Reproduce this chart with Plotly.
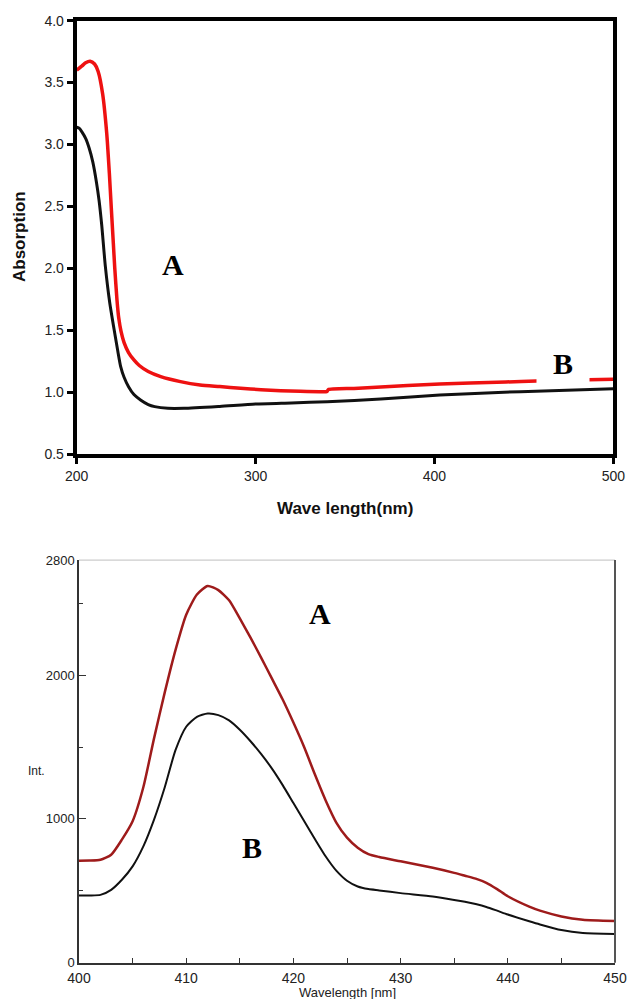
import plotly.graph_objects as go

# ---- UV-Vis absorption (top panel) ----
uv_wl_A = [200, 203, 205, 207.5, 210, 212, 214.5, 216.8, 218.3, 219.3, 220.5, 221.3, 222.5, 223.5, 224.8,
           226.5, 229, 232, 235, 240, 247, 258, 269, 280, 291.6, 303, 314, 325, 336, 340, 340.6, 355, 370,
           385, 403, 420, 440, 457, 475, 486, 500]
uv_abs_A = [3.60, 3.635, 3.66, 3.673, 3.65, 3.59, 3.41, 3.09, 2.76, 2.50, 2.20, 2.00, 1.75, 1.60, 1.49,
            1.40, 1.32, 1.26, 1.215, 1.166, 1.125, 1.085, 1.058, 1.045, 1.031, 1.02, 1.012, 1.007, 1.004, 1.006,
            1.02, 1.03, 1.042, 1.053, 1.066, 1.074, 1.082, 1.09, 1.097, 1.10, 1.105]

uv_wl_B = [200, 201.5, 203, 205, 207, 209, 211, 212.5, 214, 216, 218.5, 221, 223, 224.6, 226.5, 229,
           232, 235.7, 240, 243.6, 251, 260, 280, 300, 320, 340, 370, 403, 448, 500]
uv_abs_B = [3.14, 3.13, 3.10, 3.05, 2.97, 2.86, 2.70, 2.55, 2.35, 2.02, 1.72, 1.50, 1.33, 1.206, 1.12, 1.044,
            0.98, 0.937, 0.90, 0.883, 0.869, 0.869, 0.885, 0.904, 0.913, 0.923, 0.944, 0.977, 1.004, 1.027]

uv_xticks = [200, 300, 400, 500]

# ---- Fluorescence emission (bottom panel) ----
fl_wl = [400, 401, 402, 403, 404, 405, 406, 407, 408, 409, 410, 411, 412, 413, 414, 415, 416, 417, 418,
         419, 420, 421, 422, 423, 424, 425, 426, 427, 428, 430, 433, 435, 436, 437, 438, 439, 440, 442, 443,
         445, 447, 450]
fl_int_A = [709, 710, 716, 751, 856, 984, 1220, 1560, 1880, 2174, 2420, 2560, 2620, 2591, 2520, 2394, 2260,
            2120, 1975, 1830, 1670, 1500, 1310, 1130, 975, 870, 800, 755, 735, 705, 660, 625, 605, 585, 556,
            512, 462, 390, 362, 322, 299, 290]
fl_int_B = [467, 468, 472, 507, 577, 670, 809, 995, 1220, 1478, 1641, 1710, 1733, 1722, 1685, 1620, 1540,
            1450, 1350, 1235, 1110, 985, 860, 740, 640, 570, 530, 512, 503, 484, 460, 437, 424, 408, 388,
            362, 335, 288, 266, 227, 206, 200]

fl_yticks = [0, 1000, 2000, 2800]

SANS = "Liberation Sans, Arial, sans-serif"
NARROW = "Liberation Sans Narrow, Arial Narrow, Liberation Sans, sans-serif"
SERIF = "Liberation Serif, Times New Roman, serif"

fig = go.Figure()
fig.add_trace(go.Scatter(x=uv_wl_B, y=uv_abs_B, xaxis="x", yaxis="y", mode="lines",
                         line=dict(color="#111111", width=3, shape="spline", smoothing=0.6)))
fig.add_trace(go.Scatter(x=uv_wl_A, y=uv_abs_A, xaxis="x", yaxis="y", mode="lines",
                         line=dict(color="#ee1111", width=3.5, shape="spline", smoothing=0.6)))
fig.add_trace(go.Scatter(x=fl_wl, y=fl_int_A, xaxis="x2", yaxis="y2", mode="lines",
                         line=dict(color="#9e1b1b", width=2.5, shape="spline", smoothing=0.6)))
fig.add_trace(go.Scatter(x=fl_wl, y=fl_int_B, xaxis="x2", yaxis="y2", mode="lines",
                         line=dict(color="#111111", width=2, shape="spline", smoothing=0.6)))

fig.update_layout(
    template="none",
    width=628, height=999,
    margin=dict(l=0, r=0, t=0, b=0, pad=0),
    paper_bgcolor="white", plot_bgcolor="white",
    showlegend=False,
    xaxis=dict(domain=[0.1221, 0.9766], range=[200, 500], tickvals=uv_xticks, automargin=False,
               showline=True, linewidth=4, linecolor="black", mirror=True,
               ticks="outside", ticklen=6, tickwidth=3, tickcolor="black",
               tickfont=dict(family=SANS, size=14, color="#222"),
               showgrid=False, zeroline=False, anchor="y"),
    yaxis=dict(domain=[0.5455, 0.9793], range=[0.5, 4.0], dtick=0.5, tick0=0.5, tickformat=".1f",
               automargin=False,
               showline=True, linewidth=4, linecolor="black", mirror=True,
               ticks="outside", ticklen=6, tickwidth=3, tickcolor="black",
               tickfont=dict(family=SANS, size=14, color="#222"),
               showgrid=False, zeroline=False, anchor="x"),
    xaxis2=dict(domain=[0.1258, 0.9793], range=[400, 450], dtick=10, tick0=400, automargin=False,
                showline=True, linewidth=1.5, linecolor="#333",
                ticks="inside", ticklen=5, tickwidth=1.2, tickcolor="#333",
                minor=dict(dtick=5, tick0=400, ticks="inside", ticklen=5, tickwidth=1.2, tickcolor="#333"),
                tickfont=dict(family=NARROW, size=14, color="#222"), ticklabelstandoff=2,
                showgrid=False, zeroline=False, anchor="y2"),
    yaxis2=dict(domain=[0.0363, 0.4394], range=[0, 2800], tickvals=fl_yticks, automargin=False,
                showline=True, linewidth=1.5, linecolor="#333",
                ticks="inside", ticklen=7, tickwidth=1.2, tickcolor="#333",
                minor=dict(dtick=500, tick0=0, ticks="inside", ticklen=4, tickwidth=1.2, tickcolor="#333"),
                tickfont=dict(family=NARROW, size=13, color="#222"),
                showgrid=False, zeroline=False, anchor="x2"),
    shapes=[
        dict(type="line", xref="x2 domain", yref="y2 domain", x0=0, x1=1, y0=1, y1=1,
             line=dict(color="#cccccc", width=1.2)),
        dict(type="line", xref="x2 domain", yref="y2 domain", x0=1, x1=1, y0=0, y1=1,
             line=dict(color="#555555", width=2)),
    ],
    annotations=[
        dict(text="<b>Absorption</b>", xref="paper", yref="paper", x=20 / 628, y=1 - 237 / 999,
             textangle=-90, showarrow=False, font=dict(family=SANS, size=17, color="#111"),
             xanchor="center", yanchor="middle"),
        dict(text="<b>Wave length(nm)</b>", xref="paper", yref="paper", x=345 / 628, y=1 - 508 / 999,
             showarrow=False, font=dict(family=SANS, size=17, color="#111"),
             xanchor="center", yanchor="middle"),
        dict(text="<b>A</b>", xref="x", yref="y", x=254, y=2.03, showarrow=False,
             font=dict(family=SERIF, size=30, color="black")),
        dict(text="<b>B</b>", xref="x", yref="y", x=472, y=1.233, showarrow=False,
             font=dict(family=SERIF, size=30, color="black"), bgcolor="white", width=50, height=40),
        dict(text="<b>A</b>", xref="x2", yref="y2", x=422.5, y=2430, showarrow=False,
             font=dict(family=SERIF, size=30, color="black")),
        dict(text="<b>B</b>", xref="x2", yref="y2", x=416.1, y=798, showarrow=False,
             font=dict(family=SERIF, size=30, color="black")),
        dict(text="Int.", xref="paper", yref="paper", x=36 / 628, y=1 - 771 / 999, showarrow=False,
             font=dict(family=NARROW, size=12, color="#222"), xanchor="center", yanchor="middle"),
        dict(text="Wavelength [nm]", xref="paper", yref="paper", x=347 / 628, y=1 - 992 / 999,
             showarrow=False, font=dict(family=NARROW, size=13, color="#222"),
             xanchor="center", yanchor="middle"),
    ],
)

fig.write_html(
    "out.html",
    config={"displayModeBar": False},
    post_script="document.body.style.margin='0';document.body.style.padding='0';document.body.style.overflow='hidden';",
)
